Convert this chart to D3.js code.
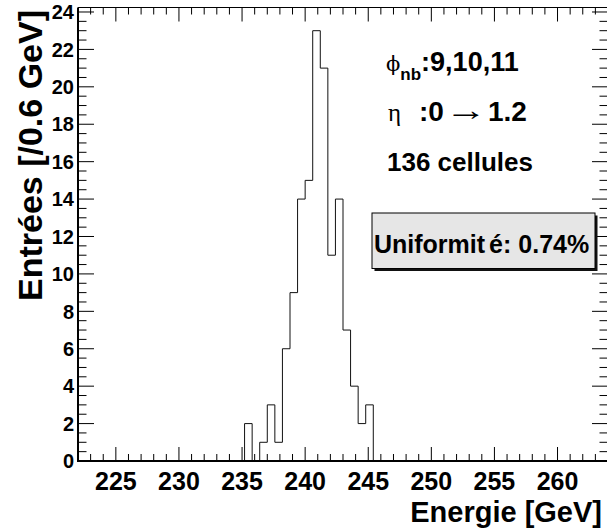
<!DOCTYPE html>
<html><head><meta charset="utf-8">
<script src="https://cdn.jsdelivr.net/npm/d3@7/dist/d3.min.js"></script>
<style>
body{margin:0;background:#fff}
svg{display:block}
text{font-family:"Liberation Sans",Arial,Helvetica,sans-serif;font-weight:bold;fill:#000}
</style>
</head><body>
<svg id="c" width="607" height="531"></svg>
<script>
// ---- data ----
const binStart = 222.0;
const binWidth = 0.6;
const counts = [
  0,0,0,0,0,0,0,0,0,0,
  0,0,0,0,0,0,0,0,0,0,
  0,0,2,0,1,3,1,6,9,14,
  15,23,21,11,14,7,4,2,3,0,
  0,0,0,0,0,0,0,0,0,0,
  0,0,0,0,0,0,0,0,0,0,
  0,0,0,0,0,0,0,0,0,0
];
const xDomain = [222, 264];
const yDomain = [0, 24.24];
const xMajorTicks = [225,230,235,240,245,250,255,260];
const yMajorTicks = [0,2,4,6,8,10,12,14,16,18,20,22,24];
const xTitle = "Energie [GeV]";
const yTitle = "Entrées [/0.6 GeV]";
const cellCount = "136 cellules";
const phiLabel = ":9,10,11";
const etaLabel = ["0", "1.2"];
const uniformity = "0.74%";

// ---- layout ----
const L = 78, R = 608, T = 7.5, B = 461;
const svg = d3.select("#c");
const x = d3.scaleLinear().domain(xDomain).range([L, R]);
const y = d3.scaleLinear().domain(yDomain).range([B, T]);

// frame (top/right thin)
svg.append("line").attr("x1",L).attr("x2",R).attr("y1",T).attr("y2",T).attr("stroke","#000").attr("stroke-width",1.2);
svg.append("line").attr("x1",R).attr("x2",R).attr("y1",T).attr("y2",B).attr("stroke","#000").attr("stroke-width",1.2);

// minor tick values
const xMinor = d3.range(xDomain[0]+1, xDomain[1], 1).filter(v => !xMajorTicks.includes(v));
const yMinor = d3.range(0.5, yDomain[1], 0.5).filter(v => !yMajorTicks.includes(v));

const tg = svg.append("g").attr("stroke","#000").attr("stroke-width",1);
xMajorTicks.forEach(v=>{
  tg.append("line").attr("x1",x(v)).attr("x2",x(v)).attr("y1",B).attr("y2",B-14);
  tg.append("line").attr("x1",x(v)).attr("x2",x(v)).attr("y1",T).attr("y2",T+14);
});
xMinor.forEach(v=>{
  tg.append("line").attr("x1",x(v)).attr("x2",x(v)).attr("y1",B).attr("y2",B-7);
  tg.append("line").attr("x1",x(v)).attr("x2",x(v)).attr("y1",T).attr("y2",T+7);
});
yMajorTicks.forEach(v=>{
  tg.append("line").attr("x1",L).attr("x2",L+16).attr("y1",y(v)).attr("y2",y(v));
  tg.append("line").attr("x1",R).attr("x2",R-16).attr("y1",y(v)).attr("y2",y(v));
});
yMinor.forEach(v=>{
  tg.append("line").attr("x1",L).attr("x2",L+8.5).attr("y1",y(v)).attr("y2",y(v));
  tg.append("line").attr("x1",R).attr("x2",R-8.5).attr("y1",y(v)).attr("y2",y(v));
});

// histogram outline
const pts = counts.map((c,i)=>[binStart + i*binWidth, c]);
pts.push([binStart + counts.length*binWidth, counts[counts.length-1]]);
const line = d3.line().x(d=>x(d[0])).y(d=>y(d[1])).curve(d3.curveStepAfter);
svg.append("path").attr("d", line(pts)).attr("fill","none").attr("stroke","#111").attr("stroke-width",1);

// axes (thick left/bottom)
svg.append("line").attr("x1",L).attr("x2",L).attr("y1",T).attr("y2",B+1).attr("stroke","#000").attr("stroke-width",2);
svg.append("line").attr("x1",L-1).attr("x2",R).attr("y1",B).attr("y2",B).attr("stroke","#000").attr("stroke-width",2);

// tick labels
svg.append("g").selectAll("text").data(xMajorTicks).join("text")
  .attr("x",d=>x(d)).attr("y",490).attr("text-anchor","middle").attr("font-size",25).text(d=>d);
svg.append("g").selectAll("text").data(yMajorTicks).join("text")
  .attr("x",74).attr("y",d=>y(d)+7.2).attr("text-anchor","end").attr("font-size",20).text(d=>d);

// axis titles
svg.append("text").attr("x",602).attr("y",522).attr("text-anchor","end").attr("font-size",29).text(xTitle);
svg.append("text").attr("transform","translate(41.5,10) rotate(-90)").attr("text-anchor","end").attr("font-size",34).text(yTitle);

// annotations
const t1 = svg.append("text").attr("x",386).attr("y",71).attr("font-size",27);
t1.append("tspan").attr("font-family","DejaVu Serif, serif").attr("font-weight","normal").attr("font-size",21).text("ϕ");
t1.append("tspan").attr("font-size",17).attr("dy",9).attr("dx",0).text("nb");
t1.append("tspan").attr("dy",-9).text(phiLabel);

const t2 = svg.append("text").attr("x",388).attr("y",121).attr("font-size",28);
t2.append("tspan").attr("font-family","Liberation Serif, serif").attr("font-weight","normal").attr("font-size",25).text("η");
t2.append("tspan").attr("x",419).text(":" + etaLabel[0]);
t2.append("tspan").attr("x",488).text(etaLabel[1]);
svg.append("text").attr("x",445).attr("y",120).attr("font-family","Liberation Sans, sans-serif")
  .attr("font-weight","normal").attr("font-size",30).attr("textLength",42).attr("lengthAdjust","spacingAndGlyphs").text("→");

svg.append("text").attr("x",387).attr("y",171).attr("font-size",26).text(cellCount);

// uniformity box with shadow
svg.append("rect").attr("x",374.5).attr("y",215.5).attr("width",223).attr("height",55.5).attr("fill","#111");
svg.append("rect").attr("x",372).attr("y",213).attr("width",223).attr("height",55.5).attr("fill","#e6e6e6").attr("stroke","#000").attr("stroke-width",1);
const t3 = svg.append("text").attr("x",374).attr("y",253).attr("font-size",25);
t3.append("tspan").text("Uniformit");
t3.append("tspan").attr("dx",4).text("é: " + uniformity);
</script>
</body></html>
